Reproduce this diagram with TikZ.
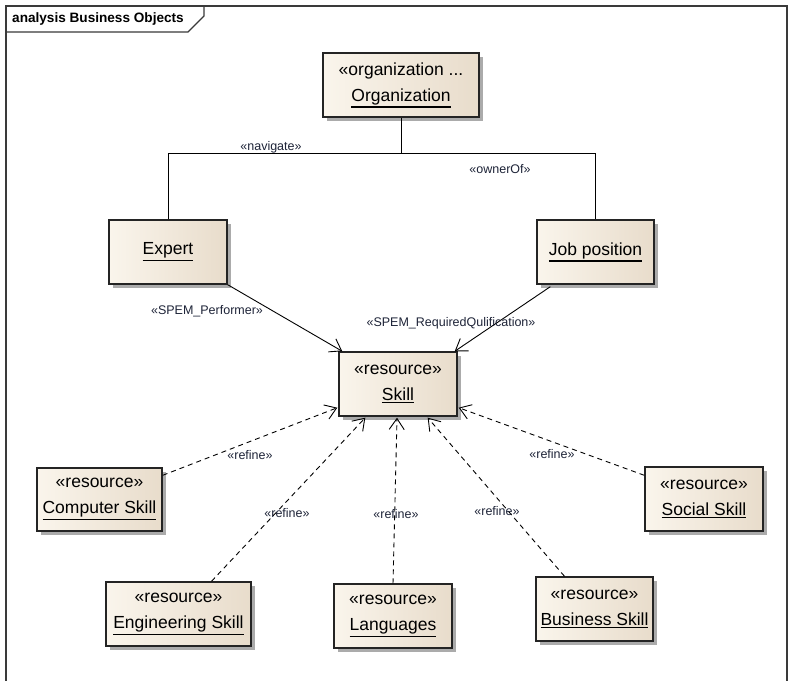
\documentclass[tikz,border=0pt]{standalone}
\usepackage{fontspec}
\setmainfont{Liberation Sans}
\usetikzlibrary{arrows.meta,shadows,calc}

\definecolor{boxL}{HTML}{FAF5EC}
\definecolor{boxR}{HTML}{E8DCCB}
\definecolor{edge}{HTML}{242424}
\definecolor{shade}{HTML}{ABABAB}
\definecolor{lbl}{HTML}{1E2438}
\definecolor{frm}{HTML}{3A3A3A}

% underlined element name with a heavier rule than \underline
\newcommand\ulname[1]{\setbox0=\hbox{#1}\leavevmode\rlap{\vrule width\wd0 height-\dimexpr\dp0+1.6pt\relax depth\dimexpr\dp0+2.9pt\relax}\box0}

\tikzset{
  umlbox/.style={draw=edge, line width=1.4pt, left color=boxL, right color=boxR,
    inner sep=0pt, align=center, font=\fontsize{17.5}{26}\selectfont,
    drop shadow={shadow xshift=4pt, shadow yshift=-4pt, fill=shade, opacity=1}},
  stereo/.style={font=\fontsize{12.5}{14}\selectfont, text=lbl, inner sep=1pt},
  assoc/.style={draw=black, line width=0.9pt},
  usage/.style={draw=black, line width=0.9pt,
    -{Straight Barb[length=11pt,width=15pt,line width=0.9pt]}},
  refines/.style={usage, dash pattern=on 5pt off 4pt},
}

\begin{document}
\begin{tikzpicture}[x=1pt,y=-1pt]
\useasboundingbox (0,0) rectangle (789,680);
\clip (0,0) rectangle (789,680);
\fill[white] (0,0) rectangle (789,680);

% diagram frame and its name tab
\draw[frm, line width=1.3pt] (6,700) -- (6,6) -- (787,6) -- (787,700);
\draw[frm, line width=1.3pt] (6,32) -- (188,32) -- (204,16) -- (204,6);
\node[anchor=west, inner sep=0pt, font=\fontsize{13.6}{15}\selectfont\bfseries] (title) at (12,19) {analysis Business Objects};

% classifiers
\node[umlbox, minimum width=156pt, minimum height=64pt] (org) at (401,85) {«organization ...\\\ulname{Organization}};
\node[umlbox, minimum width=118pt, minimum height=64pt] (expert) at (168,252) {\ulname{Expert}};
\node[umlbox, minimum width=117pt, minimum height=64pt] (job) at (595.5,252) {\ulname{Job position}};
\node[umlbox, minimum width=118pt, minimum height=64pt] (skill) at (398,384) {«resource»\\\ulname{Skill}};
\node[umlbox, minimum width=125pt, minimum height=63pt] (computer) at (99.5,499.5) {«resource»\\\ulname{Computer Skill}};
\node[umlbox, minimum width=145pt, minimum height=64pt] (eng) at (178.5,614) {«resource»\\\ulname{Engineering Skill}};
\node[umlbox, minimum width=118pt, minimum height=64pt] (lang) at (393,616) {«resource»\\\ulname{Languages}};
\node[umlbox, minimum width=117pt, minimum height=64pt] (bus) at (594.5,609) {«resource»\\\ulname{Business Skill}};
\node[umlbox, minimum width=118pt, minimum height=64pt] (social) at (704,499) {«resource»\\\ulname{Social Skill}};

% organization links
\coordinate (junction) at (401,153);
\draw[assoc] (org.south) -- (junction);
\draw[assoc] (expert.north) |- (junction);
\draw[assoc] (job.north) |- (junction);
\node[stereo] (lnav) at (271,147) {«navigate»};
\node[stereo] (lown) at (500,169) {«ownerOf»};

% dependencies on Skill
\draw[usage] (expert.south east) -- ($(skill.north west)+(4,0)$);
\draw[usage] ($(job.south west)+(14,2)$) -- ($(skill.north east)+(-3,0)$);
\node[stereo] (lperf) at (207,311) {«SPEM\_Performer»};
\node[stereo] (lreq) at (451,323) {«SPEM\_RequiredQulification»};

% refinements
\draw[refines] ($(computer.north east)+(0,8)$) -- ($(skill.south west)+(-1,-9)$);
\draw[refines] ($(eng.north)+(33,0)$) -- ($(skill.south west)+(27,1)$);
\draw[refines] (lang.north) -- ($(skill.south)+(-1,1)$);
\draw[refines] ($(bus.north)+(-30,0)$) -- ($(skill.south east)+(-30,1)$);
\draw[refines] ($(social.north west)+(0,9)$) -- ($(skill.south east)+(1,-9)$);
\node[stereo] (lref1) at (250,455) {«refine»};
\node[stereo] (lref2) at (287,513) {«refine»};
\node[stereo] (lref3) at (396,514) {«refine»};
\node[stereo] (lref4) at (497,511) {«refine»};
\node[stereo] (lref5) at (552,454) {«refine»};
\end{tikzpicture}
\end{document}
